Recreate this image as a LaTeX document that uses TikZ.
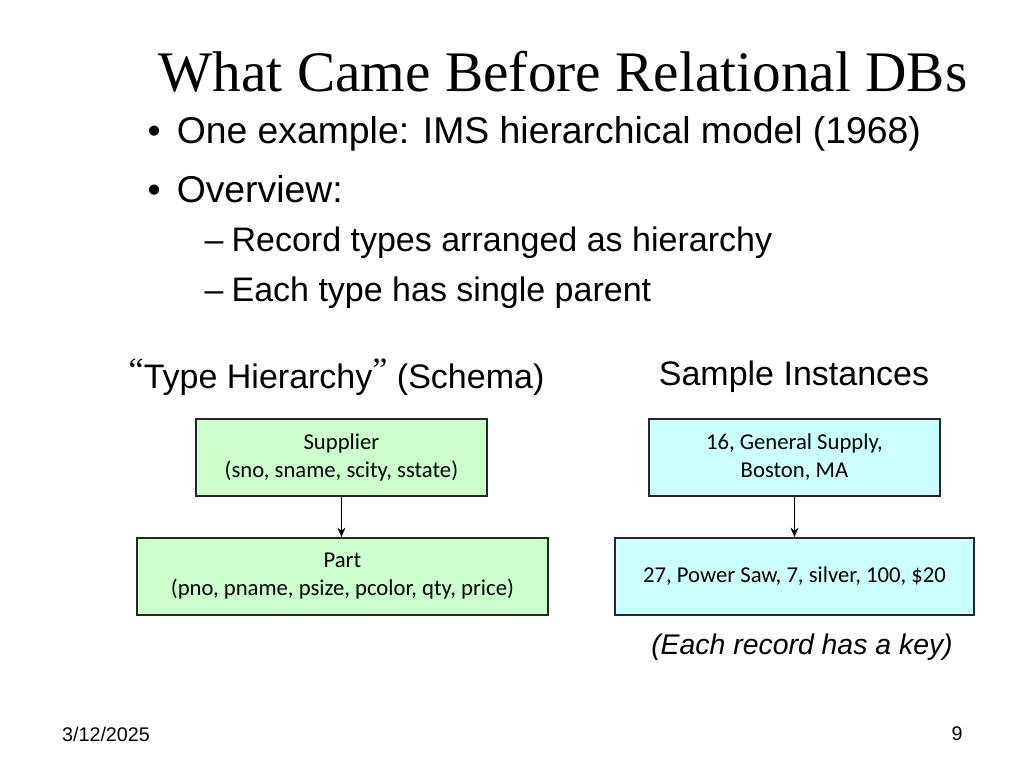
\documentclass[tikz,border=0pt]{standalone}
\usepackage{fontspec}
\setmainfont{Liberation Sans}
\newfontfamily\ttlfont{Liberation Serif}
\newfontfamily\calfont{Carlito}
\usetikzlibrary{arrows.meta}
\definecolor{lgreen}{HTML}{CCFFCC}
\definecolor{lcyan}{HTML}{CCFFFF}
\begin{document}
\begin{tikzpicture}[x=0.75pt,y=-0.75pt,
  box/.style={draw=black!85,line width=1.4pt,anchor=north west,inner sep=0pt,font=\calfont\fontsize{17}{21}\selectfont,align=center},
  arr/.style={-{Stealth[length=7pt,width=6pt]},line width=1.1pt}]
\useasboundingbox (0,0) rectangle (1024,768);
\node[font=\ttlfont\fontsize{43}{46}\selectfont] (title) at (563,72) {What Came Before Relational DBs};
\node[anchor=west,font=\fontsize{28}{32}\selectfont] (b1) at (143,134) {•\hspace{12pt}One example: IMS hierarchical model (1968)};
\node[anchor=west,font=\fontsize{28}{32}\selectfont] (b2) at (143,189) {•\hspace{12pt}Overview:};
\node[anchor=west,font=\fontsize{25.5}{30}\selectfont] (s1) at (200,243) {–\hspace{6pt}Record types arranged as hierarchy};
\node[anchor=west,font=\fontsize{25.5}{30}\selectfont] (s2) at (200,293) {–\hspace{6pt}Each type has single parent};
\node[anchor=west,font=\fontsize{25.5}{30}\selectfont] (lh) at (124,377) {\raisebox{5pt}{\ttlfont“}Type Hierarchy\raisebox{5pt}{\ttlfont”} (Schema)};
\node[font=\fontsize{25.5}{30}\selectfont] (rh) at (794,377) {Sample Instances};
\node[box,fill=lgreen,minimum width=291*0.75pt,minimum height=77*0.75pt] (sup) at (195,418) {Supplier\\(sno, sname, scity, sstate)};
\node[box,fill=lgreen,minimum width=411*0.75pt,minimum height=77*0.75pt] (part) at (136,537) {Part\\(pno, pname, psize, pcolor, qty, price)};
\node[box,fill=lcyan,minimum width=291*0.75pt,minimum height=77*0.75pt] (i1) at (648,418) {16, General Supply,\\Boston, MA};
\node[box,fill=lcyan,minimum width=359*0.75pt,minimum height=77*0.75pt] (i2) at (614,537) {27, Power Saw, 7, silver, 100, \$20};
\draw[arr] (sup.south) -- (sup.south |- part.north);
\draw[arr] (i1.south) -- (i1.south |- i2.north);
\node[font=\itshape\fontsize{21.3}{25}\selectfont] (key) at (802,647) {(Each record has a key)};
\node[font=\fontsize{14.8}{17}\selectfont] (date) at (106,734) {3/12/2025};
\node[font=\fontsize{14.8}{17}\selectfont] (pg) at (957,734) {9};
\end{tikzpicture}
\end{document}
